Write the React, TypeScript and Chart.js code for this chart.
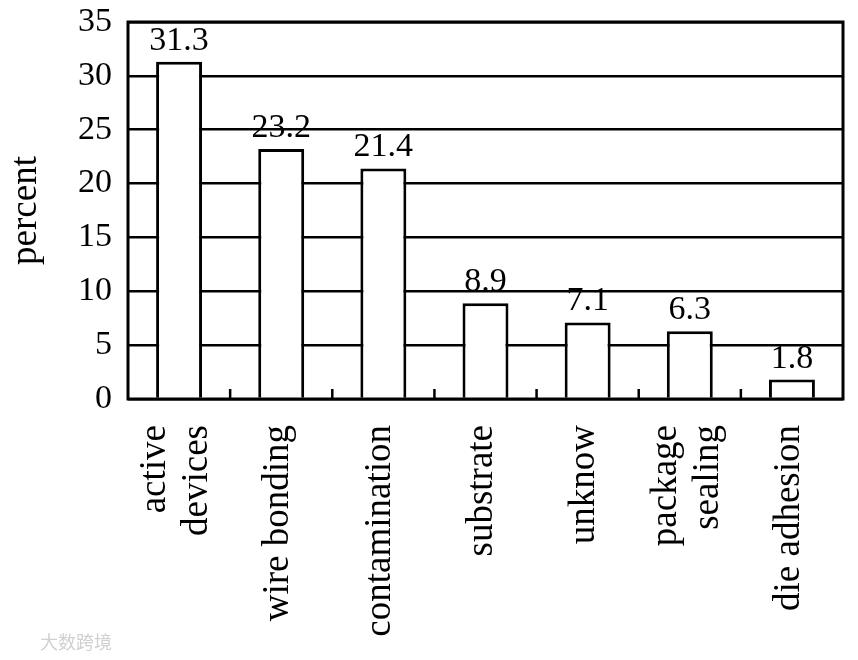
import React, { useEffect, useRef } from "react";
import { Chart, registerables } from "chart.js";

Chart.register(...registerables);

const categories: (string | string[])[] = [
  ["active", "devices"],
  "wire bonding",
  "contamination",
  "substrate",
  "unknow",
  ["package", "sealing"],
  "die adhesion",
];
const percentValues = [31.3, 23.2, 21.4, 8.9, 7.1, 6.3, 1.8];
const valueLabels = ["31.3", "23.2", "21.4", "8.9", "7.1", "6.3", "1.8"];
const yAxisTitle = "percent";
const yMin = 0;
const yMax = 35;
const yStep = 5;

const SERIF = "'Liberation Serif', 'DejaVu Serif', serif";

const framePlugin = {
  id: "frame",
  afterDatasetsDraw(chart: any) {
    const { ctx, chartArea } = chart;
    const xs = chart.scales.x;
    ctx.save();
    ctx.strokeStyle = "#000";
    ctx.lineWidth = 3;
    ctx.strokeRect(chartArea.left, chartArea.top, chartArea.right - chartArea.left, chartArea.bottom - chartArea.top);
    // inward category boundary ticks
    ctx.lineWidth = 2.5;
    for (let i = 0; i < categories.length - 1; i++) {
      const x = (xs.getPixelForValue(i) + xs.getPixelForValue(i + 1)) / 2;
      ctx.beginPath();
      ctx.moveTo(x, chartArea.bottom);
      ctx.lineTo(x, chartArea.bottom - 10);
      ctx.stroke();
    }
    // value labels
    ctx.fillStyle = "#000";
    ctx.font = `34px ${SERIF}`;
    ctx.textAlign = "center";
    ctx.textBaseline = "bottom";
    const meta = chart.getDatasetMeta(0);
    meta.data.forEach((bar: any, i: number) => {
      const p = bar.getProps(["x", "y"], true);
      ctx.fillText(valueLabels[i], p.x, p.y - 4);
    });
    // rotated category labels
    ctx.font = `37px ${SERIF}`;
    ctx.textAlign = "right";
    ctx.textBaseline = "middle";
    const lineGap = 42;
    categories.forEach((cat, i) => {
      const lines = Array.isArray(cat) ? cat : [cat];
      const cx = xs.getPixelForValue(i) - 3;
      lines.forEach((line, j) => {
        const x = cx + (j - (lines.length - 1) / 2) * lineGap;
        ctx.save();
        ctx.translate(x, chartArea.bottom + 26);
        ctx.rotate(-Math.PI / 2);
        ctx.fillText(line, 0, 0);
        ctx.restore();
      });
    });
    ctx.restore();
  },
};

export default function App() {
  const ref = useRef<HTMLCanvasElement | null>(null);
  useEffect(() => {
    if (!ref.current) return;
    const chart = new Chart(ref.current, {
      type: "bar",
      data: {
        labels: categories,
        datasets: [
          {
            data: percentValues,
            backgroundColor: "#ffffff",
            borderColor: "#000000",
            borderWidth: 3,
            barPercentage: 0.45,
            categoryPercentage: 1,
          },
        ],
      },
      options: {
        animation: false,
        responsive: false,
        maintainAspectRatio: false,
        layout: { padding: { top: 22, right: 15, left: 0, bottom: 0 } },
        plugins: { legend: { display: false }, tooltip: { enabled: false } },
        scales: {
          x: {
            grid: { display: false, drawTicks: false },
            border: { display: false },
            ticks: { display: false },
            afterFit(scale: any) {
              scale.height = 261;
              scale.paddingLeft = 0;
              scale.paddingRight = 0;
            },
          },
          y: {
            min: yMin,
            max: yMax,
            grid: { color: "#000", lineWidth: 2.5, drawTicks: false },
            border: { display: false },
            ticks: {
              stepSize: yStep,
              color: "#000",
              font: { family: SERIF, size: 34 },
              padding: 16,
            },
            title: {
              display: true,
              text: yAxisTitle,
              color: "#000",
              font: { family: SERIF, size: 37 },
              padding: { top: 4, bottom: 0 },
            },
            afterFit(scale: any) {
              scale.width = 128;
              scale.paddingTop = 0;
              scale.paddingBottom = 0;
            },
          },
        },
      },
      plugins: [framePlugin],
    });
    return () => chart.destroy();
  }, []);
  return (
    <div style={{ position: "fixed", left: 0, top: 0, width: 858, height: 660, background: "#fff" }}>
      <canvas ref={ref} width={858} height={660} style={{ display: "block" }} />
      <div
        style={{
          position: "absolute",
          left: 40,
          top: 628,
          fontFamily: "'Noto Sans CJK SC', sans-serif",
          fontSize: 18,
          color: "#d0d0d0",
        }}
      >
        大数跨境
      </div>
    </div>
  );
}
